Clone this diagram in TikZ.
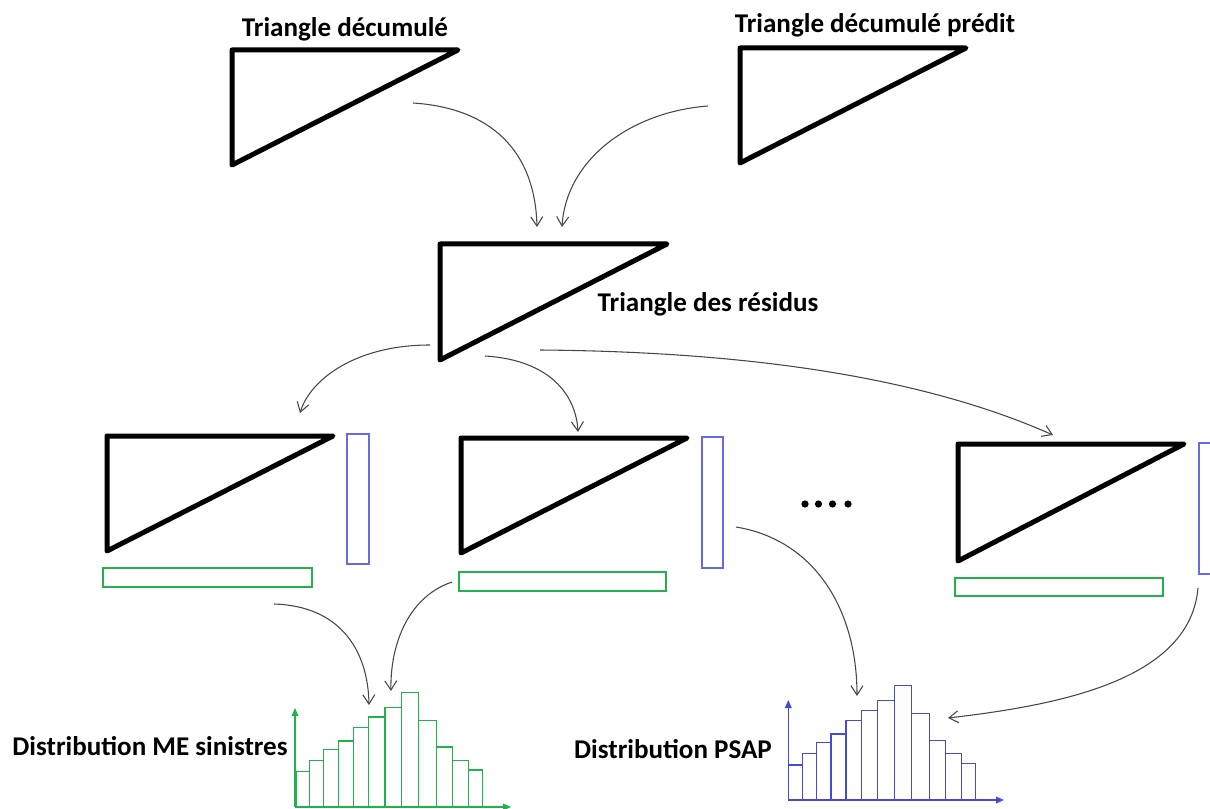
\documentclass[tikz,border=0pt]{standalone}
\usepackage{fontspec}
\setmainfont{Carlito}
\usetikzlibrary{arrows.meta}
\definecolor{pgreen}{RGB}{34,177,76}
\definecolor{pblue}{RGB}{70,75,210}
\definecolor{rblue}{RGB}{105,105,225}
\definecolor{agray}{RGB}{70,70,70}
\tikzset{
  tri/.style={line width=3.75pt, line join=round, line cap=round, black},
  lbl/.style={font=\fontsize{20.3}{24}\selectfont\bfseries, inner sep=0pt},
  flow/.style={agray, line width=0.8pt, -{Straight Barb[length=7pt,width=9pt]}},
  grect/.style={draw=pgreen, line width=0.9pt},
  brect/.style={draw=rblue, line width=0.9pt},
  gbar/.style={draw=pgreen, line width=1.15pt},
  bbar/.style={draw=pblue, line width=1.15pt},
  gaxis/.style={pgreen, line width=1pt, -{Triangle[length=6pt,width=5pt]}},
  baxis/.style={pblue, line width=1pt, -{Triangle[length=6pt,width=5pt]}},
}
\begin{document}
\begin{tikzpicture}[x=0.75pt,y=-0.75pt]
\useasboundingbox (0,0) rectangle (1210,809);
% triangles
\draw[tri] (232,50) -- (458,50) -- (232,165) -- cycle;
\draw[tri] (740,48) -- (966,48) -- (740,163) -- cycle;
\draw[tri] (440,244) -- (667,244) -- (440,360) -- cycle;
\draw[tri] (107,436) -- (333,436) -- (107,551) -- cycle;
\draw[tri] (461,438) -- (687,438) -- (461,553) -- cycle;
\draw[tri] (958,444) -- (1184,444) -- (958,561) -- cycle;
% blue vectors
\draw[brect] (347,434) rectangle (369,564);
\draw[brect] (702,437) rectangle (723,568);
\draw[brect] (1199,443) rectangle (1215,574);
% green vectors
\draw[grect] (103,568) rectangle (312,587);
\draw[grect] (459,572) rectangle (666,591);
\draw[grect] (955,578) rectangle (1163,596);
% labels
\node[lbl] (l1) at (345,29) {Triangle décumulé};
\node[lbl] (l2) at (875,25) {Triangle décumulé prédit};
\node[lbl] (l3) at (708,304) {Triangle des résidus};
\node[lbl] (l4) at (150,746) {Distribution ME sinistres};
\node[lbl] (l5) at (673,749) {Distribution PSAP};
% dots
\foreach \px in {805,818.5,832.5,848} \fill (\px,504) circle (3.6);
% arrow endpoints
\coordinate (a1s) at (413,103); \coordinate (a1e) at (537,227);
\coordinate (a2s) at (708,106); \coordinate (a2e) at (562,227);
\coordinate (a3s) at (430,345); \coordinate (a3e) at (300,413);
\coordinate (a4s) at (485,356); \coordinate (a4e) at (578,432);
\coordinate (a5s) at (540,350); \coordinate (a5e) at (1053,435);
\coordinate (a6s) at (274,604); \coordinate (a6e) at (369,705);
\coordinate (a7s) at (452,582); \coordinate (a7e) at (391,691);
\coordinate (a8s) at (736,527); \coordinate (a8e) at (857,696);
\coordinate (a9s) at (1198,588); \coordinate (a9e) at (948,718);
\draw[flow] (a1s) .. controls (490,108) and (535,150) .. (a1e);
\draw[flow] (a2s) .. controls (630,112) and (566,160) .. (a2e);
\draw[flow] (a3s) .. controls (355,345) and (310,380) .. (a3e);
\draw[flow] (a4s) .. controls (550,360) and (576,395) .. (a4e);
\draw[flow] (a5s) .. controls (780,352) and (940,385) .. (a5e);
\draw[flow] (a6s) .. controls (340,606) and (368,650) .. (a6e);
\draw[flow] (a7s) .. controls (405,598) and (390,650) .. (a7e);
\draw[flow] (a8s) .. controls (815,540) and (857,610) .. (a8e);
\draw[flow] (a9s) .. controls (1190,680) and (1060,705) .. (a9e);
% green histogram
\foreach \xa/\xb/\ty in {296/309.3/771.7, 309.3/323.3/760.3, 323.3/338.3/749.3, 338.3/353.3/741, 353.3/368.7/727.3, 368.7/385/717, 385/401.7/707.3, 401.7/418.3/692.3, 418.3/436.7/720.3, 436.7/452.3/747, 452.3/468.7/760.3, 468.7/482.7/770}
  \draw[gbar] (\xa,807) rectangle (\xb,\ty);
\coordinate (go) at (295,807);
\coordinate (gy) at (295,708);
\coordinate (gx) at (511,807);
\draw[gaxis] (go) -- (gy);
\draw[gaxis] (go) -- (gx);
% blue histogram
\foreach \xa/\xb/\ty in {788.3/802.3/765, 802.3/816.3/753.7, 816.3/831/742.3, 831/846/734, 846/861.7/720.3, 861.7/877.7/710.3, 877.7/894.3/700.7, 894.3/911.7/685.3, 911.7/929.7/713.3, 929.7/945.7/740.3, 945.7/961.7/753.7, 961.7/975.3/763.3}
  \draw[bbar] (\xa,800) rectangle (\xb,\ty);
\coordinate (bo) at (788.3,800);
\coordinate (by) at (788.3,700);
\coordinate (bx) at (1004,800);
\draw[baxis] (bo) -- (by);
\draw[baxis] (bo) -- (bx);
\end{tikzpicture}
\end{document}
